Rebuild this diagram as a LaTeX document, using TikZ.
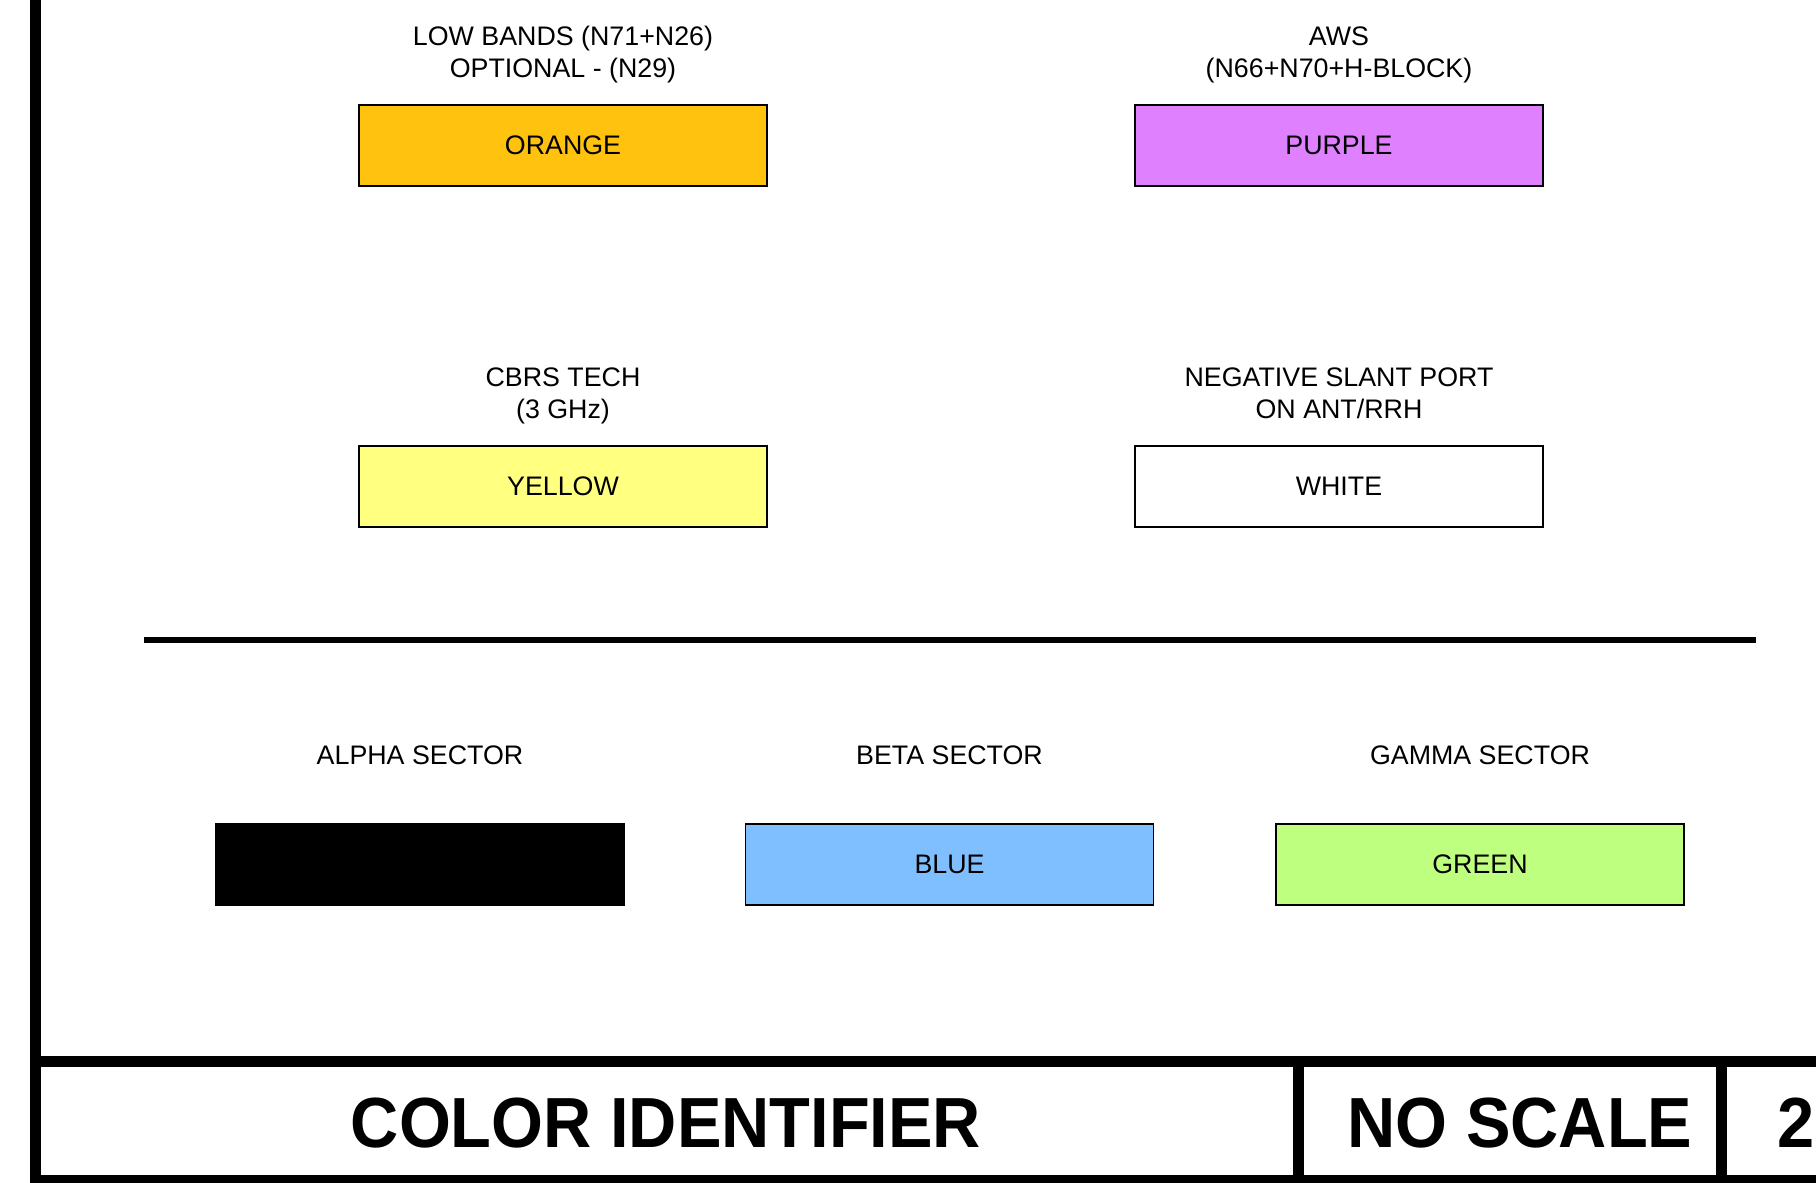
\documentclass[tikz,border=0pt]{standalone}
\usepackage{fontspec}
\setmainfont{Liberation Sans}
\newfontfamily\titlefont[FakeStretch=0.94]{Liberation Sans}
\usetikzlibrary{positioning}
\definecolor{BandOrange}{RGB}{255,194,14}
\definecolor{BandPurple}{RGB}{223,128,255}
\definecolor{BandYellow}{RGB}{255,255,128}
\definecolor{SectorBlue}{RGB}{128,191,255}
\definecolor{SectorGreen}{RGB}{191,255,128}
\tikzset{
    % Color boxes - sharp corners
    colorbox/.style={
        rectangle,
        draw=black,
        line width=0.75pt,
        minimum width=204pt,
        minimum height=40.5pt,
        inner sep=0pt,
        font=\fontsize{13.4}{16}\selectfont
    },
    % Labels above the boxes (base = last line)
    bandlabel/.style={
        align=center,
        anchor=base,
        inner sep=0pt,
        font=\fontsize{13.4}{16}\selectfont
    },
    % Frame lines
    frameline/.style={
        line width=5.5pt,
        draw=black
    },
    sepline/.style={
        line width=3.25pt,
        draw=black
    },
    titletext/.style={
        anchor=base,
        inner sep=0pt,
        font=\titlefont\bfseries\fontsize{35.5}{40}\selectfont
    }
}
\begin{document}
\begin{tikzpicture}[x=0.5pt, y=-0.5pt]
    \clip (0,0) rectangle (1816,1183);

    % bands
    \node[bandlabel] (lowlbl) at (563,77) {LOW BANDS (N71+N26)\\OPTIONAL - (N29)};
    \node[colorbox, fill=BandOrange] (orange) at (563,145.5) {ORANGE};
    \node[bandlabel] (awslbl) at (1339,77) {AWS\\(N66+N70+H-BLOCK)};
    \node[colorbox, fill=BandPurple] (purple) at (1339,145.5) {PURPLE};
    \node[bandlabel] (cbrslbl) at (563,418) {CBRS TECH\\(3 GHz)};
    \node[colorbox, fill=BandYellow] (yellow) at (563,486.5) {YELLOW};
    \node[bandlabel] (neglbl) at (1339,418) {NEGATIVE SLANT PORT\\ON ANT/RRH};
    \node[colorbox, fill=white] (white) at (1339,486.5) {WHITE};

    \coordinate (sepL) at (144,640);
    \coordinate (sepR) at (1756,640);
    \draw[sepline] (sepL) -- (sepR);

    % sectors
    \node[bandlabel] (alphalbl) at (420,764) {ALPHA SECTOR};
    \node[colorbox, fill=black] (alpha) at (420,864.5) {};
    \node[bandlabel] (betalbl) at (949.5,764) {BETA SECTOR};
    \node[colorbox, fill=SectorBlue] (beta) at (949.5,864.5) {BLUE};
    \node[bandlabel] (gammalbl) at (1480,764) {GAMMA SECTOR};
    \node[colorbox, fill=SectorGreen] (gamma) at (1480,864.5) {GREEN};

    % frame and title block
    \coordinate (fTop) at (35.5,-20);
    \coordinate (fBot) at (35.5,1200);
    \coordinate (tTL) at (35.5,1061.5);
    \coordinate (tTR) at (1840,1061.5);
    \coordinate (tBL) at (35.5,1180.5);
    \coordinate (tBR) at (1840,1180.5);
    \draw[frameline] (fTop) -- (fBot);
    \draw[frameline] (tTL) -- (tTR);
    \draw[frameline] (tBL) -- (tBR);
    \coordinate (d1T) at (1298.5,1061.5);
    \coordinate (d1B) at (1298.5,1180.5);
    \coordinate (d2T) at (1721.5,1061.5);
    \coordinate (d2B) at (1721.5,1180.5);
    \draw[frameline] (d1T) -- (d1B);
    \draw[frameline] (d2T) -- (d2B);

    \node[titletext] (title) at (666,1147) {COLOR IDENTIFIER};
    \node[titletext] (scale) at (1520,1147) {NO SCALE};
    \node[titletext, anchor=base west] (sheet) at (1777,1147) {2};
\end{tikzpicture}
\end{document}
